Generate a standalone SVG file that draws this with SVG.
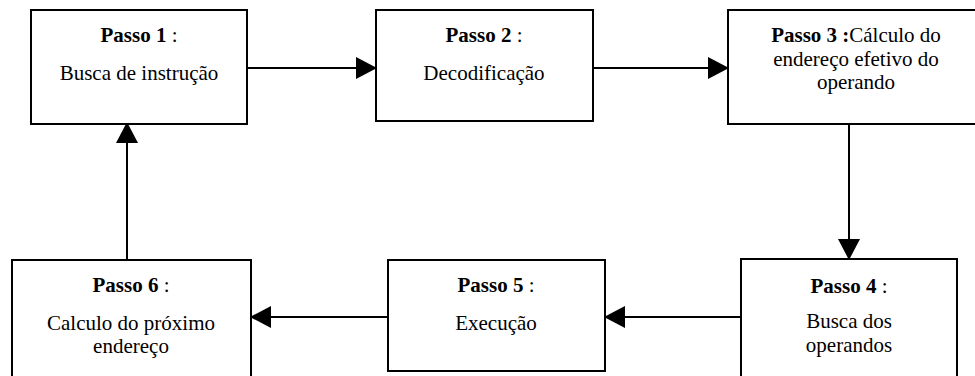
<svg xmlns="http://www.w3.org/2000/svg" width="975" height="376" viewBox="0 0 975 376">
<style>
.box{fill:#fff;stroke:#000;stroke-width:2}
.t{font-family:"Liberation Serif","Times New Roman",serif;font-size:21px;fill:#000;text-anchor:middle}
.b{font-weight:bold}
.c{stroke:#000;stroke-width:2;fill:none}
</style>
<defs>
<marker id="ah" markerUnits="userSpaceOnUse" markerWidth="22" markerHeight="22" refX="20" refY="11" orient="auto" viewBox="0 0 22 22">
<path d="M0,0 L21,11 L0,22 Z" fill="#000"/>
</marker>
</defs>
<rect width="975" height="376" fill="#fff"/>
<g id="connectors">
<line class="c" x1="247" y1="68" x2="376" y2="68" marker-end="url(#ah)"/>
<line class="c" x1="593" y1="68" x2="728" y2="68" marker-end="url(#ah)"/>
<line class="c" x1="849" y1="124" x2="849" y2="259" marker-end="url(#ah)"/>
<line class="c" x1="741" y1="317" x2="605" y2="317" marker-end="url(#ah)"/>
<line class="c" x1="388" y1="317" x2="251" y2="317" marker-end="url(#ah)"/>
<line class="c" x1="127" y1="260" x2="127" y2="123" marker-end="url(#ah)"/>
</g>
<g id="node1">
<rect class="box" x="31" y="10" width="216" height="114"/>
<text class="t" x="139" y="42"><tspan class="b">Passo 1</tspan> :</text>
<text class="t" x="139" y="80">Busca de instrução</text>
</g>
<g id="node2">
<rect class="box" x="376" y="10" width="217" height="111"/>
<text class="t" x="484" y="42"><tspan class="b">Passo 2</tspan> :</text>
<text class="t" x="484" y="80">Decodificação</text>
</g>
<g id="node3">
<rect class="box" x="728" y="10" width="258" height="114"/>
<text class="t" x="856" y="42"><tspan class="b">Passo 3 :</tspan>Cálculo do</text>
<text class="t" x="856" y="66">endereço efetivo do</text>
<text class="t" x="856" y="89">operando</text>
</g>
<g id="node4">
<rect class="box" x="741" y="259" width="216" height="120"/>
<text class="t" x="849" y="293"><tspan class="b">Passo 4</tspan> :</text>
<text class="t" x="849" y="328">Busca dos</text>
<text class="t" x="849" y="352">operandos</text>
</g>
<g id="node5">
<rect class="box" x="388" y="260" width="217" height="111"/>
<text class="t" x="496" y="292"><tspan class="b">Passo 5</tspan> :</text>
<text class="t" x="496" y="330">Execução</text>
</g>
<g id="node6">
<rect class="box" x="12" y="260" width="239" height="120"/>
<text class="t" x="131" y="292"><tspan class="b">Passo 6</tspan> :</text>
<text class="t" x="131" y="330">Calculo do próximo</text>
<text class="t" x="131" y="353">endereço</text>
</g>
</svg>
